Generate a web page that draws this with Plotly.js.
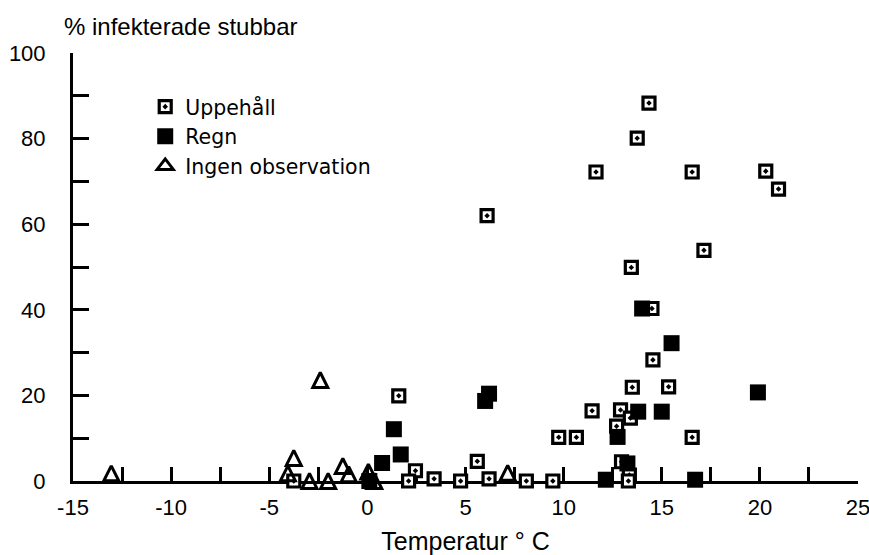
<!DOCTYPE html>
<html>
<head>
<meta charset="utf-8">
<script src="https://cdn.plot.ly/plotly-3.0.1.min.js"></script>
<style>html,body{margin:0;padding:0;background:#fff;}</style>
</head>
<body>
<div id="chart" style="width:869px;height:555px;"></div>
<script>
// ---- data ----
const seriesNames = ['Uppehåll', 'Regn', 'Ingen observation'];

const uppehallX = [6.1, 11.65, 13.75, 14.35, 16.55, 20.3, 20.95, 17.15, 13.45, 14.5, 14.55, 13.5, 15.35, 11.45, 12.9, 13.4, 12.7, 9.75, 10.65, 16.55, 12.95, 13.35, 13.3, 9.45, 8.1, 6.2, 5.6, 4.75, 3.4, 2.45, 2.1, 1.6, -3.75];
const uppehallY = [62, 72.2, 80.1, 88.3, 72.2, 72.4, 68.2, 53.9, 49.9, 40.3, 28.3, 21.9, 22.0, 16.4, 16.6, 14.7, 12.8, 10.2, 10.2, 10.2, 4.5, 1.4, 0, 0, 0, 0.5, 4.6, 0, 0.5, 2.4, 0, 19.9, 0];

const regnX = [14.0, 15.5, 13.8, 15.0, 12.75, 13.25, 12.15, 16.7, 6.0, 6.2, 1.35, 1.7, 0.75, 0.1, 19.9];
const regnY = [40.3, 32.2, 16.2, 16.2, 10.3, 4.1, 0.3, 0.3, 18.7, 20.4, 12.1, 6.2, 4.2, 0, 20.7];

const ingenX = [-13.05, -3.75, -4.05, -2.95, -2.0, -1.25, -0.95, 0.05, 0.35, 7.15, -2.4];
const ingenY = [1.8, 5.4, 1.8, 0, 0, 3.5, 1.6, 2.2, 0, 1.9, 23.6];

const xTickVals = [-15, -10, -5, 0, 5, 10, 15, 20, 25];
const xTickText = ['-15', '-10', '-5', '0', '5', '10', '15', '20', '25'];
const yTickVals = [0, 20, 40, 60, 80, 100];
const yTickText = ['0', '20', '40', '60', '80', '100'];

const xTitle = 'Temperatur ° C';
const yTitle = '% infekterade stubbar';

// ---- traces ----
const traces = [
  {
    type: 'scatter', mode: 'markers', name: seriesNames[0],
    x: uppehallX, y: uppehallY, cliponaxis: false,
    marker: {symbol: 'square-dot', size: 12, color: 'white', line: {color: 'black', width: 3.2}}
  },
  {
    type: 'scatter', mode: 'markers', name: seriesNames[1],
    x: regnX, y: regnY, cliponaxis: false,
    marker: {symbol: 'square', size: 16, color: 'black', line: {width: 0}}
  },
  {
    type: 'scatter', mode: 'markers', name: seriesNames[2],
    x: ingenX, y: ingenY, cliponaxis: false, showlegend: false,
    marker: {symbol: 'arrow-down-open', angle: 180, standoff: 7.5, size: 15, color: 'black', line: {color: 'black', width: 3}}
  },
  {
    // legend entry only (no data points)
    type: 'scatter', mode: 'markers', name: seriesNames[2],
    x: [null], y: [null], showlegend: true,
    marker: {symbol: 'triangle-up-open', size: 14, color: 'black', line: {color: 'black', width: 3}}
  }
];

const FONT = 'Liberation Sans, Arial, Helvetica, sans-serif';

const layout = {
  width: 869, height: 555,
  margin: {l: 73, r: 11, t: 53, b: 74},
  paper_bgcolor: 'white', plot_bgcolor: 'white',
  font: {family: FONT, color: 'black', size: 22},
  showlegend: true,
  legend: {
    x: 0.092, y: 0.921, xanchor: 'left', yanchor: 'top', tracegroupgap: 0,
    font: {family: 'DejaVu Sans, ' + FONT, size: 20.5, color: 'black'},
    bgcolor: 'rgba(0,0,0,0)', borderwidth: 0
  },
  xaxis: {
    range: [-15, 25], tickmode: 'array', tickvals: xTickVals, ticktext: xTickText,
    ticks: 'inside', ticklen: 14, tickwidth: 3, tickcolor: 'black',
    showline: true, linewidth: 3, linecolor: 'black',
    showgrid: false, zeroline: false, layer: 'below traces',
    ticklabelstandoff: 5, ticklabeloverflow: 'allow',
    tickfont: {size: 22},
    minor: {dtick: 2.5, tick0: 0, ticks: 'inside', ticklen: 14, tickwidth: 3, tickcolor: 'black', showgrid: false},
    title: {text: xTitle, font: {size: 25}, standoff: 22}
  },
  yaxis: {
    range: [0, 100], tickmode: 'array', tickvals: yTickVals, ticktext: yTickText,
    ticks: 'inside', ticklen: 16, tickwidth: 3, tickcolor: 'black',
    showline: true, linewidth: 3, linecolor: 'black',
    showgrid: false, zeroline: false, layer: 'below traces',
    ticklabelstandoff: 20, ticklabeloverflow: 'allow',
    tickfont: {size: 22},
    minor: {dtick: 10, tick0: 0, ticks: 'inside', ticklen: 16, tickwidth: 3, tickcolor: 'black', showgrid: false}
  },
  annotations: [{
    text: yTitle, xref: 'paper', yref: 'paper',
    x: -0.014, y: 1.061, xanchor: 'left', yanchor: 'middle',
    showarrow: false, font: {family: FONT, size: 24, color: 'black'}
  }]
};

Plotly.newPlot('chart', traces, layout, {displayModeBar: false, staticPlot: true});
</script>
</body>
</html>
